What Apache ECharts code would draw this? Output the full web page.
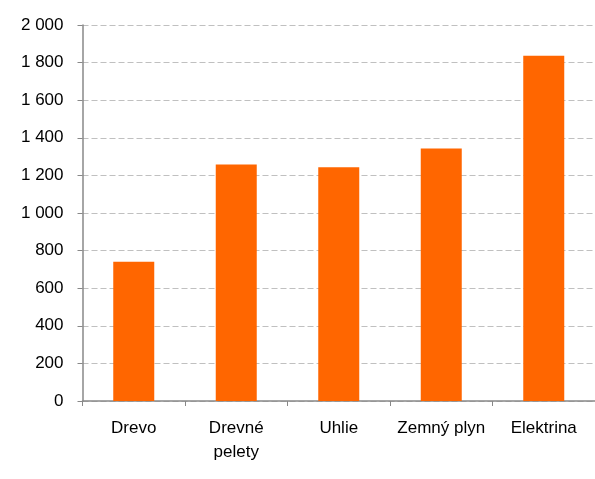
<!DOCTYPE html>
<html>
<head>
    <meta charset="utf-8">
    <title>ECharts</title>
    <script src="https://cdn.jsdelivr.net/npm/echarts@6/dist/echarts.min.js"></script>
    <style>
        html, body { margin: 0; padding: 0; background: #fff; }
    </style>
</head>
<body>
    <div id="main" style="width: 595px;height: 479px;"></div>
    <script type="text/javascript">
        var categories = ['Drevo', 'Drevné\npelety', 'Uhlie', 'Zemný plyn', 'Elektrina'];
        var values = [741, 1258, 1243, 1343, 1836];
        var yTicks = { min: 0, max: 2000, interval: 200 };

        // medzera ako oddeľovač tisícov
        function fmt(v) {
            return String(v).replace(/\B(?=(\d{3})+(?!\d))/g, ' ');
        }

        var myChart = echarts.init(document.getElementById('main'));
        var option = {
            animation: false,
            grid: { left: 82.5, top: 25, bottom: 78, width: 517 },
            xAxis: {
                type: 'category',
                data: categories,
                axisLine: { lineStyle: { color: '#888', width: 1.5 } },
                axisTick: { show: true, interval: 0, length: 5, lineStyle: { color: '#888' } },
                axisLabel: {
                    interval: 0, hideOverlap: false,
                    color: '#000', fontFamily: 'Liberation Sans, Arial', fontSize: 17,
                    margin: 15, lineHeight: 24
                }
            },
            yAxis: {
                type: 'value',
                min: yTicks.min,
                max: yTicks.max,
                interval: yTicks.interval,
                axisLine: { show: true, lineStyle: { color: '#888', width: 1.5 } },
                axisTick: { show: true, length: 5, lineStyle: { color: '#888' } },
                axisLabel: {
                    color: '#000', fontFamily: 'Liberation Sans, Arial', fontSize: 17,
                    margin: 19, formatter: fmt
                },
                splitLine: { lineStyle: { color: '#c0c0c0', type: [6, 3], width: 1.2 } }
            },
            series: [{
                type: 'bar',
                data: values,
                barWidth: 41,
                itemStyle: { color: '#FF6600' }
            }]
        };
        myChart.setOption(option);
    </script>
</body>
</html>
